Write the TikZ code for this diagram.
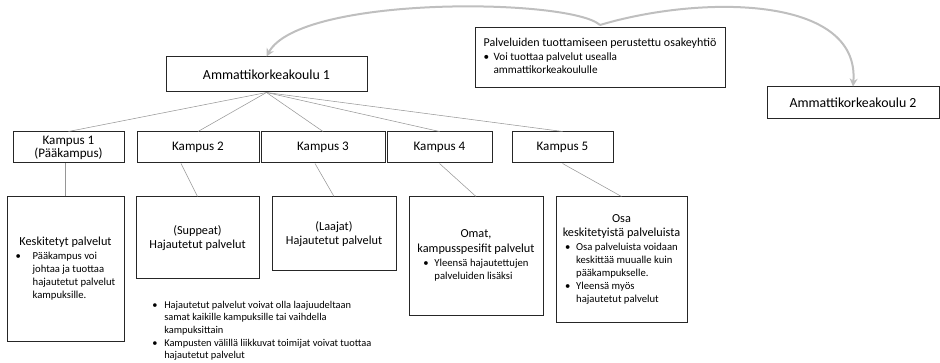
\documentclass[tikz,border=0pt]{standalone}
\usepackage{fontspec}
\setmainfont{Carlito}
\usetikzlibrary{arrows.meta}

\definecolor{arcgrey}{RGB}{191,191,191}
\definecolor{linegrey}{RGB}{150,150,150}
\definecolor{boxline}{RGB}{38,38,38}

\newcommand{\blist}[2][9pt]{\begin{tabular}[t]{@{}p{#1}@{}l@{}}#2\end{tabular}}
\newcommand{\bfont}{\fontsize{8}{9.6}\selectfont}

\begin{document}
\begin{tikzpicture}[x=0.75pt,y=0.75pt,yscale=-1,xscale=1,
  box/.style={draw=boxline,line width=0.75pt,inner sep=0pt,align=center},
  topbox/.style={box,font=\fontsize{10.4}{12.5}\selectfont},
  campusbox/.style={box,font=\fontsize{9.8}{9.8}\selectfont,minimum height=23.25pt},
  servicebox/.style={box,font=\fontsize{9.2}{10.8}\selectfont},
  thinline/.style={draw=linegrey,line width=0.4pt},
  bigarc/.style={draw=arcgrey,line width=1.5pt,-{Stealth[length=6pt,width=6pt]}}]
\useasboundingbox (0,0) rectangle (940,363);

%Shape: Rectangle [top level]
\node[topbox,minimum width=150.75pt,minimum height=26.25pt] (amk1) at (266.5,74.5) {Ammattikorkeakoulu 1};
\node[topbox,minimum width=129pt,minimum height=24pt] (amk2) at (853,103) {Ammattikorkeakoulu 2};
\node[box,align=left,minimum width=187.5pt,minimum height=45pt,font=\fontsize{9}{10.5}\selectfont] (oy) at (600,58)
  {Palveluiden tuottamiseen perustettu osakeyhtiö\\
   {\fontsize{8.4}{9.75}\selectfont\blist[7.5pt]{\textbullet & Voi tuottaa palvelut usealla\\ & ammattikorkeakoululle}}};

%Shape: Rectangle [campuses]
\node[campusbox,minimum width=83.25pt] (k1) at (68.5,147.5) {Kampus 1\\(Pääkampus)};
\node[campusbox,minimum width=91.5pt] (k2) at (198,147.5) {Kampus 2};
\node[campusbox,minimum width=93pt] (k3) at (323,147.5) {Kampus 3};
\node[campusbox,minimum width=78.75pt] (k4) at (439.5,147.5) {Kampus 4};
\node[campusbox,minimum width=75.75pt] (k5) at (562.5,147.5) {Kampus 5};

%Shape: Rectangle [services]
\node[servicebox,minimum width=87.75pt,minimum height=108.75pt] (p1) at (65.5,269.5)
  {Keskitetyt palvelut\\
   {\bfont\blist[12.75pt]{\textbullet & Pääkampus voi\\ & johtaa ja tuottaa\\ & hajautetut palvelut\\ & kampuksille.}}};
\node[servicebox,minimum width=92.25pt,minimum height=61.5pt] (p2) at (197.5,238) {(Suppeat)\\Hajautetut palvelut};
\node[servicebox,minimum width=93pt,minimum height=55.5pt] (p3) at (334,234) {(Laajat)\\Hajautetut palvelut};
\node[servicebox,minimum width=100.5pt,minimum height=89.25pt] (p4) at (476,256.5)
  {Omat,\\kampusspesifit palvelut\\
   {\bfont\blist[8.25pt]{\textbullet & Yleensä hajautettujen\\ & palveluiden lisäksi}}};
\node[servicebox,minimum width=98.25pt,minimum height=94.5pt] (p5) at (621.5,260)
  {Osa\\keskitetyistä palveluista\\
   {\bfont\blist[8.25pt]{\textbullet & Osa palveluista voidaan\\ & keskittää muualle kuin\\ & pääkampukselle.\\
    \textbullet & Yleensä myös\\ & hajautetut palvelut}}};

% Text Node
\node[anchor=north west,inner sep=0pt,font=\fontsize{7.8}{9.5}\selectfont] (note) at (152,299)
  {\blist[9pt]{\textbullet & Hajautetut palvelut voivat olla laajuudeltaan\\ & samat kaikille kampuksille tai vaihdella\\ & kampuksittain\\
   \textbullet & Kampusten välillä liikkuvat toimijat voivat tuottaa\\ & hajautetut palvelut}};

%Straight Lines
\draw[thinline] (amk1.south) -- (k1.north);
\draw[thinline] (amk1.south) -- (k2.north);
\draw[thinline] (amk1.south) -- (k3.north);
\draw[thinline] (amk1.south) -- (k4.north);
\draw[thinline] (amk1.south) -- (k5.north);
\draw[thinline] (p1.north) -- (p1.north |- k1.south);
\draw[thinline] ([xshift=-12.75pt]k2.south) -- (p2.north);
\draw[thinline] ([xshift=-6pt]k3.south) -- (p3.north);
\draw[thinline] (k4.south) -- (p4.north);
\draw[thinline] (k5.south) -- (p5.north);

%Curve Lines
\coordinate (split) at (600,25);
\draw[bigarc] (split) .. controls (570,-2) and (300,-5) .. (amk1.north);
\draw[bigarc] (split) .. controls (700,-5) and (860,-5) .. (amk2.north);

\end{tikzpicture}
\end{document}
